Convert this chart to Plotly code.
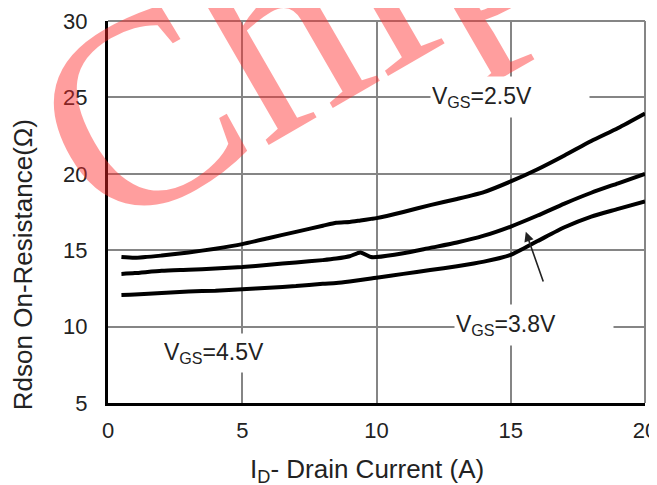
import plotly.graph_objects as go

# Drain current (A)
current_a = [0.5, 1, 2, 3, 4, 5, 6, 7, 8, 8.5, 9, 9.4, 9.8, 10, 11, 12, 13, 14, 15, 16, 17, 18, 19, 20]

# Rdson (ohm) for each gate voltage
rdson_vgs_2v5 = [14.55, 14.5, 14.65, 14.85, 15.1, 15.4, 15.8, 16.2, 16.6, 16.8, 16.85, 16.95, 17.05, 17.1,
                 17.5, 17.95, 18.35, 18.8, 19.5, 20.3, 21.2, 22.15, 23.0, 23.95]
rdson_vgs_3v8 = [13.45, 13.5, 13.65, 13.72, 13.8, 13.9, 14.05, 14.2, 14.35, 14.45, 14.6, 14.85, 14.55, 14.55,
                 14.8, 15.15, 15.5, 15.95, 16.55, 17.27, 18.05, 18.76, 19.38, 20.0]
rdson_vgs_4v5 = [12.07, 12.1, 12.2, 12.3, 12.35, 12.45, 12.55, 12.65, 12.8, 12.85, 12.95, 13.05, 13.15, 13.2,
                 13.45, 13.7, 13.95, 14.25, 14.7, 15.6, 16.5, 17.2, 17.7, 18.2]

series_names = ["VGS=2.5V", "VGS=3.8V", "VGS=4.5V"]
series_values = [rdson_vgs_2v5, rdson_vgs_3v8, rdson_vgs_4v5]

x_ticks = [0, 5, 10, 15, 20]
y_ticks = [5, 10, 15, 20, 25, 30]

FONT = "Liberation Sans, Arial, sans-serif"
TXT = "#222222"
GRID = "#858585"

fig = go.Figure()
for name, vals in zip(series_names, series_values):
    fig.add_trace(go.Scatter(
        x=current_a, y=vals, mode="lines", name=name,
        line=dict(color="black", width=4, shape="spline", smoothing=0.6),
        showlegend=False, hoverinfo="skip"))

label_style = dict(font=dict(family=FONT, size=23, color=TXT), showarrow=False,
                   bgcolor="white", align="left", xref="x", yref="y",
                   xanchor="center", yanchor="middle")

annotations = [
    # watermark (data-referenced so it does not push the margins)
    dict(text="Chip", xref="x", yref="y", x=6.8, y=29.7, showarrow=False,
         xanchor="center", yanchor="middle", textangle=-30,
         font=dict(family="Liberation Serif, Times New Roman, serif", size=275,
                   color="rgba(255,40,40,0.45)")),
    dict(text="V<sub>GS</sub>=2.5V", x=14.96, y=25.05, width=156, height=38, **label_style),
    dict(text="V<sub>GS</sub>=3.8V", x=15.87, y=10.08, width=156, height=38, **label_style),
    dict(text="V<sub>GS</sub>=4.5V", x=4.22, y=8.27, width=114, height=36, **label_style),
    # arrow pointing to the 3.8V curve
    dict(x=15.56, y=16.2, ax=16.23, ay=12.85, xref="x", yref="y", axref="x", ayref="y",
         text="", showarrow=True, arrowhead=2, arrowsize=1.2, arrowwidth=1.6, arrowcolor="#222222"),
    # axis titles
    dict(text="I<sub>D</sub>- Drain Current (A)", xref="x", yref="paper", x=9.63, y=-0.178,
         xanchor="center", yanchor="middle", showarrow=False,
         font=dict(family=FONT, size=26, color=TXT)),
    dict(text="Rdson On-Resistance(Ω)", xref="paper", yref="y", x=-0.158, y=14.03,
         xanchor="center", yanchor="middle", textangle=-90, showarrow=False,
         font=dict(family=FONT, size=26, color=TXT)),
]

shapes = [
    dict(type="line", xref="paper", yref="paper", x0=0, x1=1, y0=1, y1=1,
         line=dict(color=GRID, width=2), layer="below"),
    dict(type="line", xref="paper", yref="paper", x0=1, x1=1, y0=0, y1=1,
         line=dict(color=GRID, width=2), layer="below"),
]

fig.update_layout(
    width=657, height=485,
    margin=dict(l=100, r=20, t=13, b=90, autoexpand=False),
    paper_bgcolor="white", plot_bgcolor="white",
    annotations=annotations,
    shapes=shapes,
    xaxis=dict(range=[0, 20], tickvals=x_ticks, ticktext=[str(v) for v in x_ticks],
               automargin=False,
               showgrid=True, gridcolor=GRID, gridwidth=2, zeroline=False,
               showline=True, linecolor="black", linewidth=3, ticks="",
               ticklabelstandoff=6, ticklabeloverflow="allow",
               tickfont=dict(family=FONT, size=22, color=TXT)),
    yaxis=dict(range=[5, 30], tickvals=y_ticks, ticktext=[str(v) for v in y_ticks],
               automargin=False,
               showgrid=True, gridcolor=GRID, gridwidth=2, zeroline=False,
               showline=True, linecolor="black", linewidth=3, ticks="",
               ticklabelstandoff=13,
               tickfont=dict(family=FONT, size=22, color=TXT)),
)

fig.write_html("out.html")
